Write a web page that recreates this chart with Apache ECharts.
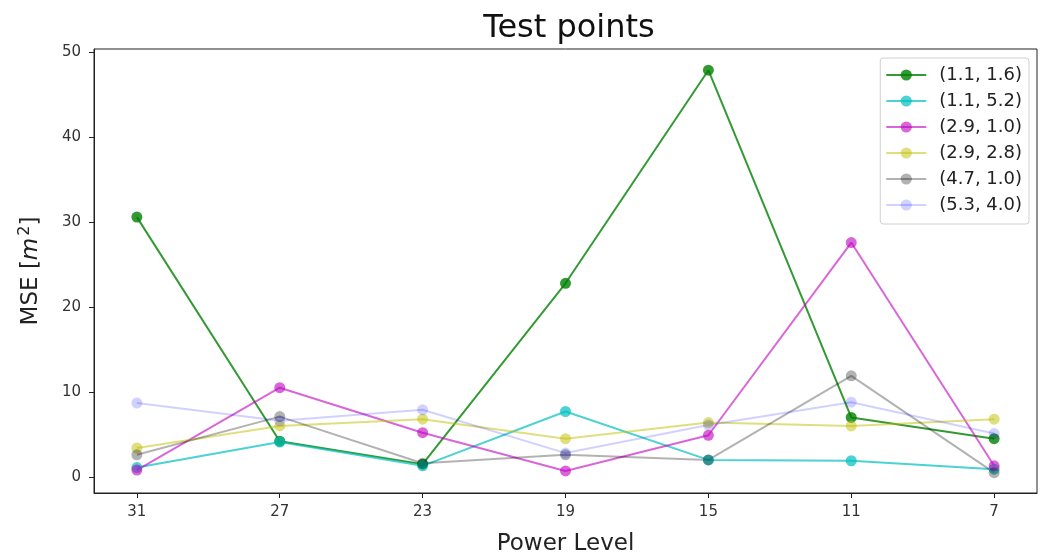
<!DOCTYPE html>
<html><head><meta charset="utf-8">
<script src="https://cdn.jsdelivr.net/npm/echarts@6/dist/echarts.min.js"></script>
<style>html,body{margin:0;padding:0;background:#fff}#c{width:1044px;height:557px}</style>
</head><body><div id="c"></div>
<script>
const categories = ['31','27','23','19','15','11','7'];
const seriesNames = ['(1.1, 1.6)','(1.1, 5.2)','(2.9, 1.0)','(2.9, 2.8)','(4.7, 1.0)','(5.3, 4.0)'];
const s_11_16 = [30.6, 4.2, 1.5, 22.8, 47.9, 7.0, 4.5];
const s_11_52 = [1.1, 4.1, 1.3, 7.7, 2.0, 1.9, 0.9];
const s_29_10 = [0.8, 10.5, 5.2, 0.7, 4.9, 27.6, 1.3];
const s_29_28 = [3.4, 6.0, 6.8, 4.5, 6.4, 6.0, 6.8];
const s_47_10 = [2.6, 7.1, 1.6, 2.6, 2.0, 11.9, 0.5];
const s_53_40 = [8.7, 6.6, 7.9, 2.8, 6.1, 8.8, 5.1];
const yTicks = [0, 10, 20, 30, 40, 50];

const seriesValues = [s_11_16, s_11_52, s_29_10, s_29_28, s_47_10, s_53_40];
const colors = ['#008000', '#00bfbf', '#bf00bf', '#bfbf00', '#000000', '#0000ff'];
const alphas = [0.8, 0.7, 0.6, 0.5, 0.3, 0.18];

const chart = echarts.init(document.getElementById('c'), null, {renderer: 'canvas'});
const font = 'DejaVu Sans';
const series = seriesValues.map((vals, i) => ({
  name: seriesNames[i],
  type: 'line',
  data: vals.map((v, j) => [j, v]),
  symbol: 'circle',
  symbolSize: 11,
  lineStyle: {color: colors[i], width: 2, opacity: alphas[i]},
  itemStyle: {color: colors[i], opacity: alphas[i]},
  emphasis: {disabled: true},
  animation: false
}));

chart.setOption({
  animation: false,
  textStyle: {fontFamily: font},
  title: {
    text: 'Test points', left: 564, top: 8, textAlign: 'center',
    textStyle: {fontFamily: font, fontSize: 32, fontWeight: 'normal', color: '#111'}
  },
  grid: {left: 94, right: 7, top: 49, bottom: 64, outerBoundsMode: 'none', containLabel: false,
         show: true, borderColor: '#222', borderWidth: 1, backgroundColor: 'transparent'},
  legend: {
    right: 15, top: 58, orient: 'vertical',
    itemWidth: 40, itemHeight: 14, itemGap: 8,
    backgroundColor: '#fff', borderColor: '#d0d0d0', borderWidth: 1, borderRadius: 3,
    padding: [8, 7, 10, 5],
    textStyle: {fontFamily: font, fontSize: 18, color: '#222', padding: [0, 0, 0, 8]},
    data: seriesNames
  },
  xAxis: {
    type: 'value', min: -0.3, max: 6.3,
    name: 'Power Level', nameLocation: 'middle', nameGap: 40,
    nameTextStyle: {fontFamily: font, fontSize: 23, color: '#222'},
    splitLine: {show: false},
    axisLine: {show: true, onZero: false, lineStyle: {color: '#222'}},
    axisTick: {show: true, length: 5, customValues: categories.map((c, i) => i), lineStyle: {color: '#222'}},
    axisLabel: {customValues: categories.map((c, i) => i), formatter: v => categories[Math.round(v)], fontSize: 15, color: '#333', margin: 12}
  },
  yAxis: {
    type: 'value', min: -1.9, max: 50.4,
    name: 'MSE [{i|m}{s|2}]', nameLocation: 'middle', nameGap: 49, nameRotate: 90,
    nameTextStyle: {fontFamily: font, fontSize: 23, color: '#222',
      rich: {i: {fontFamily: font, fontStyle: 'italic', fontSize: 23, color: '#222'},
             s: {fontFamily: font, fontSize: 16, color: '#222', verticalAlign: 'top', padding: [0, 0, 12, 2]}}},
    splitLine: {show: false},
    axisLine: {show: true, onZero: false, lineStyle: {color: '#222'}},
    axisTick: {show: true, length: 5, customValues: yTicks, lineStyle: {color: '#222'}},
    axisLabel: {customValues: yTicks, fontSize: 15, color: '#333', margin: 13}
  },
  series: series
});
</script></body></html>
